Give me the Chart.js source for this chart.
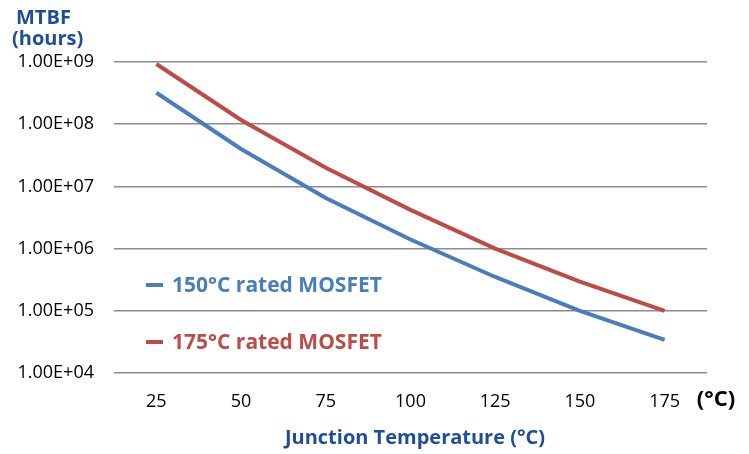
<!DOCTYPE html>
<html>
<head>
<meta charset="utf-8">
<script src="https://cdn.jsdelivr.net/npm/chart.js@4/dist/chart.umd.min.js"></script>
<style>
  html, body { margin: 0; padding: 0; background: #fff; }
  #wrap { width: 749px; height: 454px; }
</style>
</head>
<body>
<div id="wrap"><canvas id="mtbfChart"></canvas></div>
<script>
// Data
const temperatures = ['25', '50', '75', '100', '125', '150', '175'];
const mosfet150 = [3.2e8, 4.0e7, 6.5e6, 1.4e6, 3.5e5, 1.0e5, 3.4e4];
const mosfet175 = [9.3e8, 1.17e8, 2.0e7, 4.2e6, 1.0e6, 2.95e5, 1.0e5];
const yTicks = [1e4, 1e5, 1e6, 1e7, 1e8, 1e9];
const seriesLabels = ['150°C rated MOSFET', '175°C rated MOSFET'];

const seriesColors = ['#4A7EBB', '#BE4B48'];
const titleBlue = '#1F4E96';
const FONT = '"Open Sans", sans-serif';

function sciLabel(v) {
    const exp = Math.round(Math.log10(v));
    return '1.00E+' + String(exp).padStart(2, '0');
}

// Axis titles, unit label and in-plot legend
const annotations = {
    id: 'annotations',
    afterDraw(chart) {
        const ctx = chart.ctx;
        ctx.save();
        ctx.textBaseline = 'middle';
        ctx.textAlign = 'left';

        ctx.fillStyle = titleBlue;
        ctx.font = 'bold 20px ' + FONT;
        ctx.fillText('MTBF', 16, 18);
        ctx.fillText('(hours)', 12, 39);

        ctx.textAlign = 'center';
        ctx.fillText('Junction Temperature (°C)', 415, 438);

        ctx.fillStyle = '#000';
        ctx.font = 'bold 22px ' + FONT;
        ctx.fillText('(°C)', 716, 400);

        // legend
        const rows = [285, 342];
        ctx.textAlign = 'left';
        ctx.font = 'bold 21px ' + FONT;
        chart.data.datasets.forEach((ds, i) => {
            ctx.strokeStyle = ds.borderColor;
            ctx.lineWidth = 4;
            ctx.beginPath();
            ctx.moveTo(146, rows[i]);
            ctx.lineTo(163, rows[i]);
            ctx.stroke();
            ctx.fillStyle = ds.borderColor;
            ctx.fillText(ds.label, 172, rows[i] + 1);
        });
        ctx.restore();
    }
};

function initializeMtbfChart() {
    const ctx = document.getElementById('mtbfChart').getContext('2d');
    new Chart(ctx, {
        type: 'line',
        data: {
            labels: temperatures,
            datasets: [{
                label: seriesLabels[0],
                data: mosfet150,
                borderColor: seriesColors[0],
                borderWidth: 4,
                pointRadius: 0,
                tension: 0,
                fill: false
            }, {
                label: seriesLabels[1],
                data: mosfet175,
                borderColor: seriesColors[1],
                borderWidth: 4,
                pointRadius: 0,
                tension: 0,
                fill: false
            }]
        },
        options: {
            responsive: true,
            maintainAspectRatio: false,
            animation: false,
            layout: {
                padding: { top: 62, right: 42, bottom: 36, left: 0 }
            },
            plugins: {
                legend: { display: false },
                tooltip: { enabled: false }
            },
            scales: {
                x: {
                    offset: true,
                    grid: { display: false },
                    border: { display: false },
                    ticks: {
                        color: '#000',
                        padding: 10,
                        maxRotation: 0,
                        font: { family: FONT, size: 18 }
                    },
                    afterFit: (scale) => { scale.height = 45; }
                },
                y: {
                    type: 'logarithmic',
                    min: 1e4,
                    max: 1e9,
                    afterBuildTicks: (scale) => {
                        scale.ticks = yTicks.map(v => ({ value: v }));
                    },
                    grid: {
                        color: '#8C8C8C',
                        lineWidth: 1.5,
                        drawTicks: false
                    },
                    border: { display: false },
                    ticks: {
                        color: '#000',
                        padding: 20,
                        font: { family: FONT, size: 18 },
                        callback: (v) => sciLabel(v)
                    },
                    afterFit: (scale) => { scale.width = 114; }
                }
            }
        },
        plugins: [annotations]
    });
}

document.addEventListener('DOMContentLoaded', initializeMtbfChart);
</script>
</body>
</html>
